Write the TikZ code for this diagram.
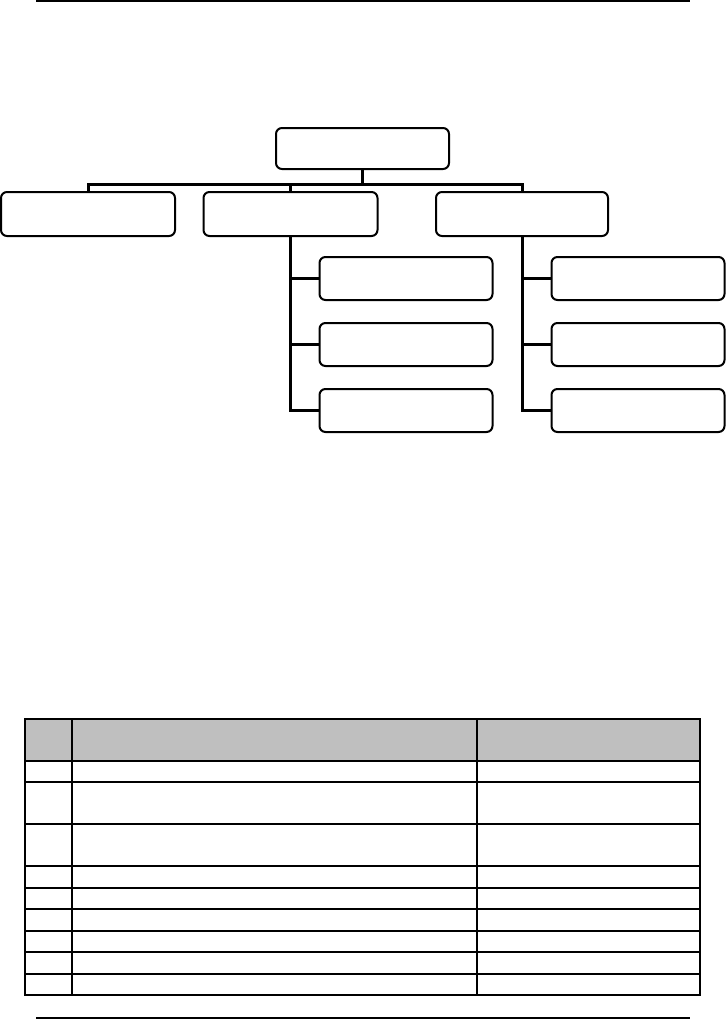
\documentclass[tikz,border=0pt]{standalone}
\usepackage{tikz}
\usetikzlibrary{positioning}

\begin{document}
\begin{tikzpicture}[
      x=1pt, y=-1pt,
      % boxes of the chart
      box/.style={
        draw,
        line width=2pt,
        rounded corners=6pt,
        minimum width=173pt,
        minimum height=43pt,
        inner sep=0pt
      },
      link/.style={line width=3pt},
      rule/.style={line width=2pt},
      grid/.style={line width=1.5pt}
    ]
    \useasboundingbox (0,0) rectangle (726,1020);

    % page rules
    \draw[rule] (36,1) -- (690,1);
    \draw[rule] (36,1018) -- (690,1018);

    % top of the chart
    \node[box, minimum height=41pt] (chief) at (362.5,148.5) {};
    \node[box, minimum width=174pt, minimum height=44pt] (dept1) at (88,214) {};
    \node[box, minimum width=174pt, minimum height=44pt] (dept2) at (290.5,214) {};
    \node[box, minimum width=172pt, minimum height=44pt] (dept3) at (522,214) {};

    % sub units
    \node[box] (a1) at (406,278.5) {};
    \node[box, below=21pt of a1] (a2) {};
    \node[box, below=21pt of a2] (a3) {};
    \node[box] (b1) at (638,278.5) {};
    \node[box, below=21pt of b1] (b2) {};
    \node[box, below=21pt of b2] (b3) {};

    % connectors
    \draw[link] (chief.south) -- ++(0,14) coordinate (bus);
    \draw[link] (dept1.north) |- (bus) -| (dept3.north);
    \draw[link] (dept2.north) -- (dept2.north |- bus);
    \draw[link] (dept2.south) |- (a3.west);
    \draw[link] (dept3.south) |- (b3.west);
    \foreach \s in {a1,a2} \draw[link] (dept2.south |- \s.west) -- (\s.west);
    \foreach \s in {b1,b2} \draw[link] (dept3.south |- \s.west) -- (\s.west);

    % table
    \fill[black!25] (25,719) rectangle (700,761);
    \draw[grid] (25,761) -- (700,761);
    \foreach \r in {782,824,866,888,909,931,952} \draw[line width=2.2pt] (25,\r) -- (700,\r);
    \draw[grid] (25,974) -- (700,974);
    \draw[grid] (72,719) -- (72,995);
    \draw[grid] (477,719) -- (477,995);
    \draw[grid] (25,719) rectangle (700,995);
  \end{tikzpicture}
\end{document}
